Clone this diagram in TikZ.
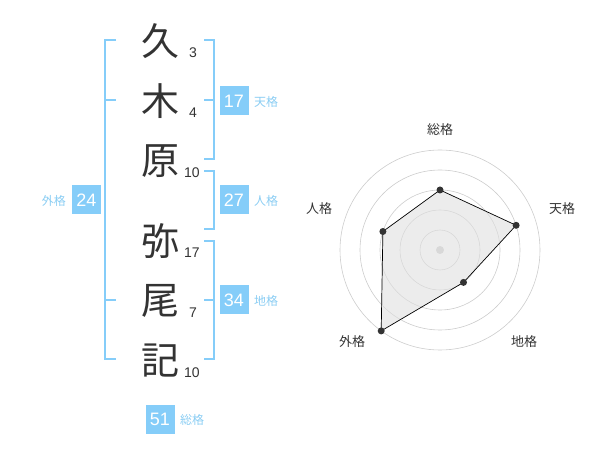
\documentclass[tikz,border=0pt]{standalone}
\usepackage{fontspec}
\setmainfont{Liberation Sans}
\newfontfamily\cjk{Noto Sans CJK JP}
\definecolor{skyb}{HTML}{85CDF9}
\definecolor{skyt}{HTML}{8ACDF3}
\definecolor{ink}{HTML}{333333}
\definecolor{ringc}{HTML}{CCCCCC}
\tikzset{
  kanji/.style={font=\cjk\fontsize{38}{38}\selectfont, text=ink, inner sep=0pt},
  strokes/.style={font=\fontsize{14}{14}\selectfont, text=ink, inner sep=0pt},
  bracket/.style={draw=skyb, line width=2pt},
  numbox/.style={fill=skyb, text=white, font=\fontsize{18}{18}\selectfont, minimum width=29pt, minimum height=29pt, inner sep=0pt},
  kakulabel/.style={font=\cjk\fontsize{12}{12}\selectfont, text=skyt, inner sep=0pt},
  ring/.style={draw=ringc, line width=0.6pt},
  axlabel/.style={font=\cjk\fontsize{13}{13}\selectfont, text=ink, inner sep=0pt},
  vdot/.style={circle, fill=ink, inner sep=0pt, minimum size=7pt},
}
\begin{document}
\begin{tikzpicture}[x=1pt,y=-1pt]
\useasboundingbox (0,0) rectangle (600,470);
% characters
\node[kanji] (k1) at (160,41) {久};
\node[kanji] (k2) at (160,101) {木};
\node[kanji] (k3) at (160,161) {原};
\node[kanji] (k4) at (160,241) {弥};
\node[kanji] (k5) at (160,301) {尾};
\node[kanji] (k6) at (160,361) {記};
\node[strokes] (s1) at (193,53) {3};
\node[strokes] (s2) at (193,113) {4};
\node[strokes] (s3) at (192,173) {10};
\node[strokes] (s4) at (192,253) {17};
\node[strokes] (s5) at (193,313) {7};
\node[strokes] (s6) at (192,373) {10};
% brackets
\coordinate (ga) at (105,40);
\coordinate (gb) at (105,359);
\draw[bracket] (116,40) -- (ga) -- (gb) -- (116,359);
\draw[bracket] (105,100) -- (116,100);
\draw[bracket] (105,300) -- (116,300);
\coordinate (ta) at (214,40);
\coordinate (tb) at (214,159);
\draw[bracket] (204,40) -- (ta) -- (tb) -- (204,159);
\draw[bracket] (204,100) -- (214,100);
\coordinate (ja) at (214,171);
\coordinate (jb) at (214,229);
\draw[bracket] (204,171) -- (ja) -- (jb) -- (204,229);
\coordinate (ca) at (214,241);
\coordinate (cb) at (214,359);
\draw[bracket] (204,241) -- (ca) -- (cb) -- (204,359);
\draw[bracket] (204,300) -- (214,300);
% number boxes
\node[numbox] (b17) at (234,101) {17};
\node[kakulabel, anchor=west] (l17) at (254,102) {天格};
\node[numbox] (b27) at (234,200) {27};
\node[kakulabel, anchor=west] (l27) at (254,201) {人格};
\node[numbox] (b34) at (234,300) {34};
\node[kakulabel, anchor=west] (l34) at (254,301) {地格};
\node[numbox] (b24) at (86.5,200) {24};
\node[kakulabel, anchor=east] (l24) at (66,201) {外格};
\node[numbox] (b51) at (160,419) {51};
\node[kakulabel, anchor=west] (l51) at (180,420) {総格};
% radar chart
\coordinate (rc) at (440,250);
\foreach \r in {20,40,60,80,100} \draw[ring] (rc) circle (\r);
\node[circle, fill=ringc, inner sep=0pt, minimum size=8pt] (cdot) at (rc) {};
\coordinate (p1) at (440,190);
\coordinate (p2) at (516.1,225.3);
\coordinate (p3) at (463.5,282.4);
\coordinate (p4) at (381.2,330.9);
\coordinate (p5) at (382.9,231.5);
\fill[black!12, opacity=0.6] (p1) -- (p2) -- (p3) -- (p4) -- (p5) -- cycle;
\draw[black, line width=0.7pt] (p1) -- (p2) -- (p3) -- (p4) -- (p5) -- cycle;
\foreach \p in {p1,p2,p3,p4,p5} \node[vdot] at (\p) {};
\node[axlabel] (a1) at (440,130) {総格};
\node[axlabel] (a2) at (562,209) {天格};
\node[axlabel] (a3) at (524,342) {地格};
\node[axlabel] (a4) at (352,342) {外格};
\node[axlabel] (a5) at (319,209) {人格};
\end{tikzpicture}
\end{document}
